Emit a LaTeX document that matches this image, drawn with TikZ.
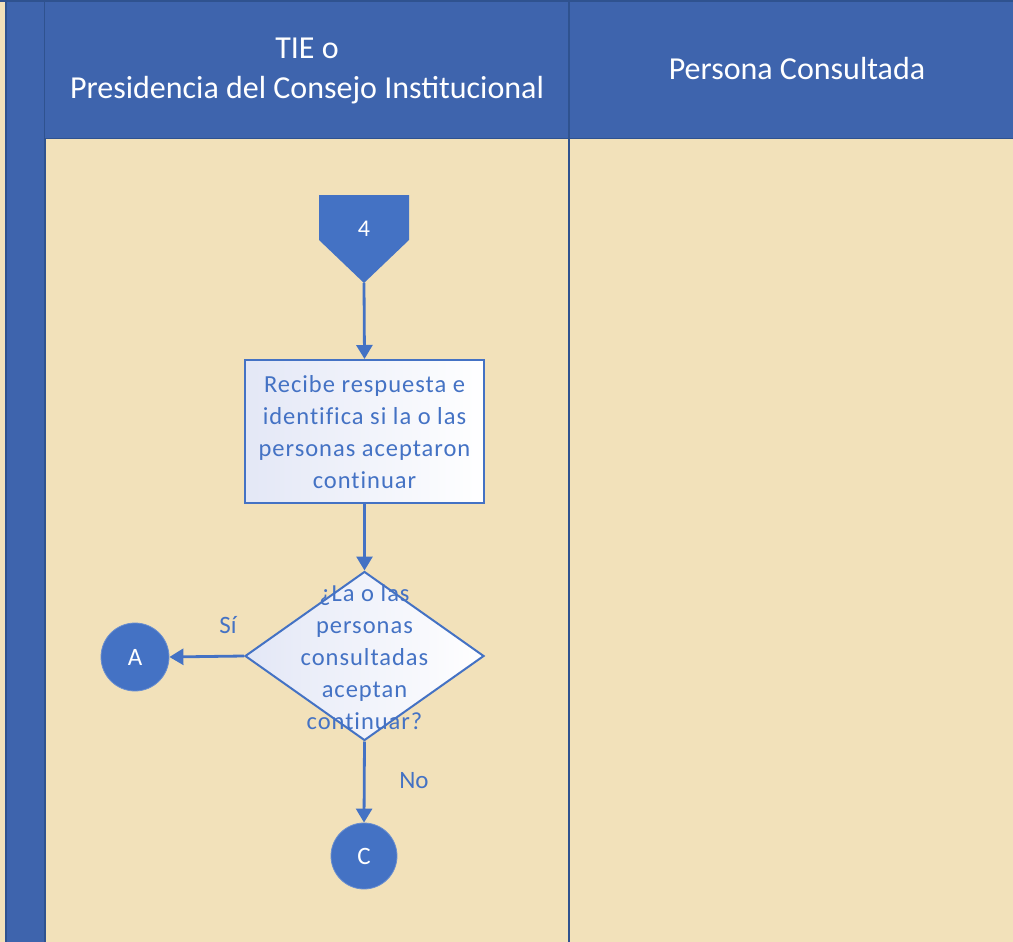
\documentclass[tikz,border=0pt]{standalone}
\usepackage{fontspec}
\setmainfont{Carlito}
\newfontfamily\spaced[LetterSpace=4,Ligatures=NoCommon]{Carlito}
\usetikzlibrary{shapes.geometric,arrows.meta}
\definecolor{parch}{HTML}{F2E1BA}
\definecolor{hdr}{HTML}{3E64AD}
\definecolor{hdrline}{HTML}{2F528F}
\definecolor{shp}{HTML}{4472C4}
\definecolor{lav}{HTML}{E3E7F6}
\tikzset{
  conn/.style={draw=shp, line width=2.8pt, -{Triangle[length=14pt,width=16pt]}},
  procbox/.style={draw=shp, line width=2pt, left color=lav, right color=white, minimum width=239pt, minimum height=143pt, inner sep=0pt},
  decis/.style={diamond, draw=shp, line width=2pt, left color=lav, right color=white, minimum width=239pt, minimum height=169pt, inner sep=0pt},
  btext/.style={text=shp, font=\fontsize{24.5}{32}\spaced, align=center},
  term/.style={circle, fill=shp, draw=shp!80!white, line width=0.8pt, text=white, font=\fontsize{25}{28}\selectfont, inner sep=0pt},
  lbl/.style={text=shp, font=\fontsize{25}{28}\selectfont},
  htext/.style={text=white, font=\fontsize{32}{40}\selectfont, align=center}
}
\begin{document}
\begin{tikzpicture}[x=1pt,y=-1pt]
\useasboundingbox (0,0) rectangle (1013,942);
% background
\fill[parch] (0,0) rectangle (1013,942);
% left bar
\fill[hdr] (6,0) rectangle (45,942);
\draw[hdrline, line width=1.2pt] (6,0) -- (6,942) (45,0) -- (45,942);
% header
\fill[hdr] (45,0) rectangle (1013,138);
\draw[hdrline, line width=1.5pt] (0,1) -- (1013,1);
\draw[hdrline, line width=1pt] (45,138) -- (1013,138);
\draw[hdrline, line width=1.3pt] (569,0) -- (569,942);
\node[htext] (h1) at (307,71) {TIE o\\Presidencia del Consejo Institucional};
\node[htext] (h2) at (797,69) {Persona Consultada};
% off-page connector 4
\fill[shp] (319,195) -- (409,195) -- (409,240) -- (364,283) -- (319,240) -- cycle;
\coordinate (tip) at (364,283);
\node[text=white, font=\fontsize{24}{28}\selectfont] (n4) at (364,229) {4};
% process box
\node[procbox] (box) at (364.5,431.5) {};
\node[btext] (boxt) at (364.5,432) {Recibe respuesta e\\identifica si la o las\\personas aceptaron\\continuar};
% decision
\node[decis] (dec) at (364.5,656) {};
\node[btext] (dect) at (364.5,657) {¿La o las\\personas\\consultadas\\aceptan\\continuar?};
% terminals
\node[term, minimum size=68pt] (A) at (135,657) {A};
\node[term, minimum size=66pt] (C) at (364,856) {C};
% connectors
\draw[conn] (tip) -- (box.north);
\draw[conn] (box.south) -- (dec.north);
\draw[conn] (dec.west) -- (A.east);
\draw[conn] (dec.south) -- (C.north);
\node[lbl] (si) at (228,625) {Sí};
\node[lbl] (no) at (414,781) {No};
\end{tikzpicture}
\end{document}
